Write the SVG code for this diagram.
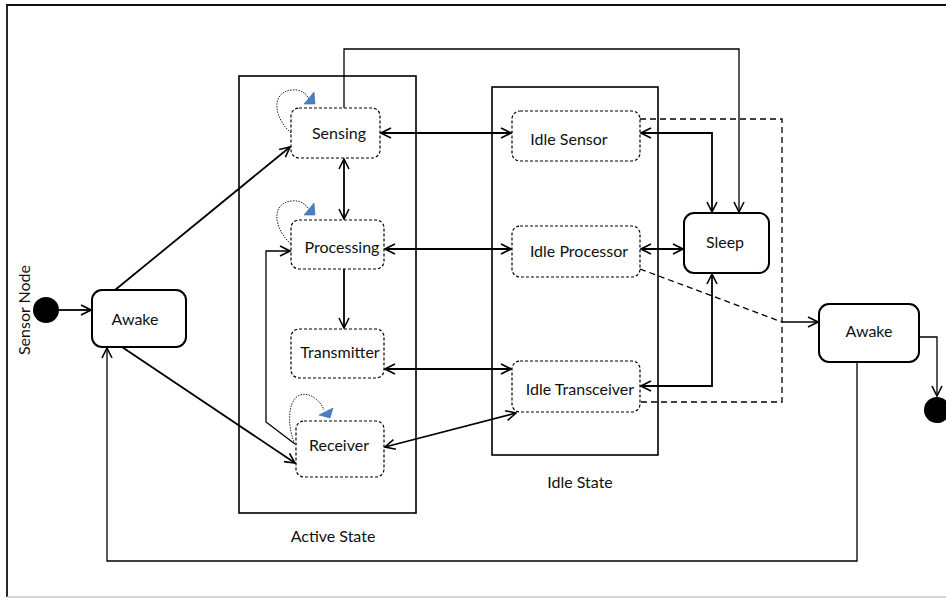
<svg xmlns="http://www.w3.org/2000/svg" width="946" height="599" viewBox="0 0 946 599">
<defs>
<style>
text{font-family:Lato,"Liberation Sans",sans-serif;font-size:16px;fill:#111;text-anchor:middle}
.st{fill:#fff;stroke:#000;stroke-width:1.2;stroke-dasharray:3,2}
.ss{fill:#fff;stroke:#000;stroke-width:2}
.box{fill:none;stroke:#000;stroke-width:1.6}
.c{fill:none;stroke:#000;stroke-width:1.8}
.c1{fill:none;stroke:#000;stroke-width:1.3}
.d{fill:none;stroke:#000;stroke-width:1.3;stroke-dasharray:6,4}
.loop{fill:none;stroke:#222;stroke-width:1;stroke-dasharray:1.5,1.2}
.tri{fill:#4a7fc1;stroke:#3a6aa8;stroke-width:0.6}
</style>
<marker id="a" viewBox="0 0 12 12" refX="11" refY="6" markerWidth="12" markerHeight="12" markerUnits="userSpaceOnUse" orient="auto-start-reverse">
<path d="M1,1 L11,6 L1,11" fill="none" stroke="#000" stroke-width="1.6"/>
</marker>
</defs>
<rect width="946" height="599" fill="#fff"/>
<g id="frame">
<path d="M7,597 L7,5 L946,5" fill="none" stroke="#111" stroke-width="1.8"/>
<path d="M7,597 L946,597" stroke="#c8c8c8" stroke-width="1.5"/>
</g>
<g id="active-state">
<rect class="box" x="239" y="76" width="177" height="437"/>
<text x="333" y="542">Active State</text>
</g>
<g id="idle-state">
<rect class="box" x="492" y="87" width="166" height="368"/>
<text x="580" y="488">Idle State</text>
</g>
<g id="connectors">
<path class="c" d="M59,310 L91,310" marker-end="url(#a)"/>
<path class="c" d="M115,290 L290,147" marker-end="url(#a)"/>
<path class="c" d="M122,347 L295,463" marker-end="url(#a)"/>
<path class="c" d="M381,133 L511,133" marker-start="url(#a)" marker-end="url(#a)"/>
<path class="c" d="M344,159 L344,219" marker-start="url(#a)" marker-end="url(#a)"/>
<path class="c" d="M385,249 L511,249" marker-start="url(#a)" marker-end="url(#a)"/>
<path class="c" d="M344,269 L344,328" marker-end="url(#a)"/>
<path class="c" d="M385,369 L511,369" marker-start="url(#a)" marker-end="url(#a)"/>
<path class="c" d="M385,447 L516,413" marker-start="url(#a)" marker-end="url(#a)"/>
<path class="c1" d="M295,444 L266,422 L266,251 L290,251" marker-end="url(#a)"/>
<path class="c1" d="M344,108 L344,49 L739,49 L739,212" marker-end="url(#a)"/>
<path class="c" d="M641,133 L712,133 L712,212" marker-start="url(#a)" marker-end="url(#a)"/>
<path class="c" d="M641,249 L683,249" marker-start="url(#a)" marker-end="url(#a)"/>
<path class="c" d="M641,386 L712,386 L712,274" marker-start="url(#a)" marker-end="url(#a)"/>
<path class="d" d="M640,119 L782,119 L782,402 L640,402"/>
<path class="d" d="M640,269 L782,322"/>
<path class="c1" d="M782,322 L818,322" marker-end="url(#a)"/>
<path class="c1" d="M919,337 L937,337 L937,396" marker-end="url(#a)"/>
<path class="c1" d="M857,362 L857,561 L107,561 L107,348" marker-end="url(#a)"/>
</g>
<g id="start">
<circle cx="46" cy="310" r="13" fill="#000"/>
<text transform="translate(30,310) rotate(-90)" x="0" y="0">Sensor Node</text>
</g>
<g id="awake-left">
<rect class="ss" x="92" y="290" width="94" height="57" rx="10"/>
<text x="135" y="325">Awake</text>
</g>
<g id="sensing">
<rect class="st" x="291" y="108" width="89" height="50" rx="8"/>
<text x="339" y="139">Sensing</text>
<path class="loop" d="M291,133 C274,118 270,92 292,90 C300,89 306,93 310,100"/>
<polygon class="tri" points="304,104 315,104 314,92"/>
</g>
<g id="processing">
<rect class="st" x="291" y="220" width="93" height="49" rx="8"/>
<text x="342" y="253">Processing</text>
<path class="loop" d="M291,244 C274,229 270,203 292,201 C300,200 306,204 310,211"/>
<polygon class="tri" points="304,215 315,215 314,203"/>
</g>
<g id="transmitter">
<rect class="st" x="291" y="329" width="93" height="49" rx="8"/>
<text x="340" y="358">Transmitter</text>
</g>
<g id="receiver">
<rect class="st" x="296" y="421" width="88" height="56" rx="8"/>
<text x="339" y="451">Receiver</text>
<path class="loop" d="M295,444 C288,430 286,400 300,395 C310,392 320,400 324,410"/>
<polygon class="tri" points="319,415 330,418 333,408"/>
</g>
<g id="idle-sensor">
<rect class="st" x="512" y="111" width="128" height="50" rx="8"/>
<text x="569" y="145">Idle Sensor</text>
</g>
<g id="idle-processor">
<rect class="st" x="512" y="226" width="128" height="51" rx="8"/>
<text x="579" y="257">Idle Processor</text>
</g>
<g id="idle-transceiver">
<rect class="st" x="512" y="361" width="128" height="51" rx="8"/>
<text x="580" y="395">Idle Transceiver</text>
</g>
<g id="sleep">
<rect class="ss" x="684" y="213" width="85" height="60" rx="10"/>
<text x="725" y="248">Sleep</text>
</g>
<g id="awake-right">
<rect class="ss" x="819" y="304" width="100" height="58" rx="10"/>
<text x="869" y="337">Awake</text>
</g>
<g id="end">
<circle cx="937" cy="410" r="13" fill="#000"/>
</g>
</svg>
